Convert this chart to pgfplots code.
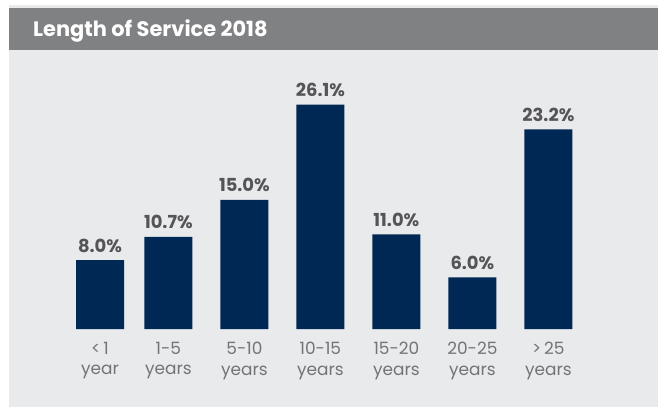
\documentclass[border=0pt]{standalone}
\usepackage{pgfplots}
\pgfplotsset{compat=1.18}
\usepackage{fontspec}
\setmainfont{Poppins}
\definecolor{barnavy}{RGB}{0,40,85}
\definecolor{panelgray}{RGB}{233,234,236}
\definecolor{headgray}{RGB}{128,129,131}
\definecolor{valgray}{RGB}{85,85,87}
\definecolor{tickgray}{RGB}{115,116,118}

\begin{document}
\begin{tikzpicture}
% panel and header band
\fill[white] (0bp,0bp) rectangle (658bp,407bp);
\fill[panelgray] (9bp,0bp) rectangle (658bp,402bp);
\fill[headgray] (9bp,357bp) rectangle (658bp,399bp);
\node[anchor=base west, inner sep=0pt, text=white,
      font=\fontsize{21}{25}\selectfont\bfseries] at (33bp,370bp) {Length of Service 2018};

\begin{axis}[
    at={(24bp,78bp)}, anchor=south west,
    scale only axis,
    width=608bp, height=258bp,
    xmin=-1, xmax=7,
    ymin=0, ymax=30,
    ybar, bar width=48bp,
    clip=false,
    axis line style={draw=none},
    tick style={draw=none},
    ytick=\empty,
    xtick=data,
    xticklabels={{<\,1\\year},{1-5\\years},{5-10\\years},{10-15\\years},{15-20\\years},{20-25\\years},{>\,25\\years}},
    xticklabel style={align=center, text=tickgray, yshift=-5bp, font=\fontsize{17}{21}\selectfont},
    nodes near coords={\pgfmathprintnumber[fixed,fixed zerofill,precision=1,assume math mode=true]{\pgfplotspointmeta}\%},
    nodes near coords style={anchor=base, yshift=8bp, inner sep=0pt, text=valgray,
        font=\fontsize{18}{22}\selectfont\bfseries},
]
\addplot[fill=barnavy, draw=none] coordinates {
    (0,8.0) (0.9,10.7) (1.9,15.0) (2.9,26.1) (3.9,11.0) (4.9,6.0) (5.9,23.2)
};
\end{axis}
\end{tikzpicture}
\end{document}
